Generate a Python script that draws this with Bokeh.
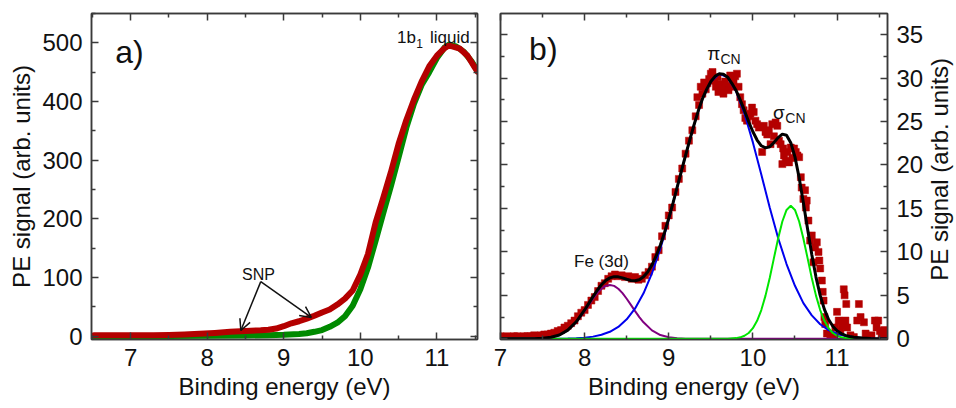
import math
from bokeh.plotting import figure
from bokeh.models import Range1d, LinearAxis, Label, Arrow, OpenHead, FixedTicker
from bokeh.layouts import row
from bokeh.embed import file_html
from bokeh.resources import INLINE

FONT = "Liberation Sans"
FRAME = "#3a3a3a"
RED = "#b40000"
DKGREEN = "#008a00"

# ---------------- panel a data ----------------
a_red_x = [6.52, 6.7, 6.9, 7.1, 7.3, 7.5, 7.7, 7.9, 8.1, 8.3, 8.5, 8.7, 8.8, 8.9, 9.0, 9.1, 9.2, 9.3,
           9.4, 9.5, 9.6, 9.7, 9.8, 9.9, 10.0, 10.1, 10.2, 10.3, 10.4, 10.5, 10.6, 10.7, 10.8, 10.9,
           11.0, 11.1, 11.15, 11.2, 11.3, 11.4, 11.5, 11.53]
a_red_y = [1.5, 1.5, 1.5, 1.5, 1.8, 2.2, 3.0, 4.0, 5.5, 7.5, 9.0, 10.0, 11.0, 13.0, 17.0, 22.0, 25.5, 30.0,
           35.0, 40.5, 45.5, 54.0, 64.0, 78.0, 105.0, 140.0, 194.0, 236.0, 280.0, 328.0, 368.0, 403.0, 434.0, 460.0,
           478.0, 491.0, 495.0, 494.0, 490.0, 478.0, 457.0, 451.0]
a_green_x = [6.52, 7.0, 7.5, 8.0, 8.5, 8.8, 9.0, 9.2, 9.3, 9.4, 9.5, 9.6, 9.7, 9.8, 9.9, 10.0, 10.1, 10.2,
             10.3, 10.4, 10.5, 10.6, 10.7, 10.8, 10.9, 11.0, 11.1, 11.16, 11.25, 11.35, 11.45, 11.53]
a_green_y = [0.5, 0.5, 0.5, 0.8, 1.2, 1.8, 2.3, 3.8, 5.0, 7.5, 10.5, 16.0, 23.0, 34.0, 52.0, 80.0, 117.0, 163.0,
             210.0, 256.0, 305.0, 355.0, 396.0, 428.0, 450.0, 474.0, 492.0, 497.0, 494.0, 485.0, 469.0, 452.0]
a_xticks = [7, 8, 9, 10, 11]
a_xminor = [6.5, 7.5, 8.5, 9.5, 10.5, 11.5]
a_yticks = [0, 100, 200, 300, 400, 500]
a_yminor = [50, 150, 250, 350, 450, 550]
snp_arrow_start = (8.70, 93.0)
snp_arrow_ends = [(8.44, 9.7), (9.36, 32.0)]

# ---------------- panel b data ----------------
b_pts_x = [7.00, 7.04, 7.08, 7.12, 7.16, 7.20, 7.24, 7.28, 7.32, 7.36, 7.40, 7.44, 7.48, 7.52, 7.56, 7.60,
           7.64, 7.68, 7.72, 7.76, 7.80, 7.84, 7.88, 7.92, 7.96, 8.00, 8.04, 8.08, 8.12, 8.16, 8.20, 8.24,
           8.28, 8.32, 8.36, 8.40, 8.44, 8.48, 8.52, 8.56, 8.60, 8.64, 8.68, 8.72, 8.76, 8.80, 8.84, 8.88,
           8.92, 8.96, 9.00, 9.04, 9.08, 9.12, 9.16, 9.20, 9.24, 9.28, 9.32, 9.34, 9.36, 9.38, 9.40, 9.42,
           9.44, 9.46, 9.48, 9.50, 9.52, 9.54, 9.56, 9.58, 9.59, 9.61, 9.63, 9.65, 9.67, 9.69, 9.71, 9.73,
           9.75, 9.77, 9.79, 9.81, 9.83, 9.85, 9.87, 9.89, 9.91, 9.93, 9.95, 9.97, 9.99, 10.01, 10.03, 10.05,
           10.07, 10.09, 10.11, 10.13, 10.15, 10.17, 10.19, 10.21, 10.23, 10.25, 10.27, 10.29, 10.31, 10.33,
           10.35, 10.36, 10.37, 10.39, 10.41, 10.43, 10.45, 10.47, 10.49, 10.51, 10.53, 10.55, 10.57, 10.58,
           10.60, 10.62, 10.63, 10.64, 10.66, 10.68, 10.70, 10.72, 10.74, 10.76, 10.78, 10.79, 10.80, 10.82,
           10.83, 10.84, 10.85, 10.86, 10.88, 10.92, 10.96, 10.98, 11.00, 11.02, 11.04, 11.06, 11.08, 11.09,
           11.10, 11.11, 11.12, 11.16, 11.20, 11.24, 11.26, 11.28, 11.32, 11.34, 11.38, 11.41, 11.45, 11.47,
           11.49, 11.51, 11.53, 11.56, 11.58]
b_pts_y = [0.3, 0.2, 0.3, 0.2, 0.3, 0.3, 0.2, 0.3, 0.3, 0.3, 0.4, 0.3, 0.4, 0.5, 0.5, 0.6,
           0.7, 0.9, 1.0, 1.3, 1.5, 1.8, 2.1, 2.6, 3.0, 3.3, 3.9, 4.4, 4.8, 5.5, 6.1, 6.4,
           6.9, 7.2, 7.4, 7.2, 7.3, 7.1, 7.2, 6.9, 7.1, 6.8, 6.9, 7.3, 7.7, 8.3, 9.4, 10.2,
           11.8, 13.0, 14.2, 15.1, 16.9, 18.4, 19.6, 21.3, 22.8, 24.0, 25.6, 27.8, 26.9, 29.0, 28.2, 29.5,
           28.7, 29.4, 29.9, 30.5, 30.7, 29.7, 29.0, 30.1, 28.4, 29.3, 28.8, 28.2, 29.6, 29.1, 28.6, 30.3,
           29.0, 29.7, 30.2, 30.5, 29.0, 27.8, 27.0, 26.3, 25.4, 25.1, 25.6, 25.9, 26.6, 26.1, 25.1, 24.7,
           24.3, 24.4, 21.5, 24.5, 23.8, 23.5, 24.0, 22.4, 24.7, 23.3, 24.9, 24.5, 22.8, 22.4,
           20.1, 21.9, 21.1, 20.5, 21.5, 20.3, 22.0, 20.8, 21.9, 21.5, 21.1, 20.9, 18.6, 17.4,
           16.1, 17.1, 15.1, 15.9, 13.6, 11.3, 11.9, 8.8, 10.5, 11.1, 10.0, 9.0, 8.1, 6.7,
           5.4, 4.4, 2.5, 1.7, 0.6, 0.4, 0.4, 1.3, 3.1, 2.1, 0.8, 1.5, 5.7, 5.0,
           2.1, 4.0, 1.3, 0.4, 0.2, 2.1, 4.0, 2.5, 1.9, 0.6, 0.2, 0.4, 2.1, 1.3,
           2.1, 0.9, 0.4, 1.0, 0.3]

b_fit_x = [7.0, 7.1, 7.2, 7.3, 7.4, 7.5, 7.6, 7.7, 7.8, 7.9,
           8.0, 8.05, 8.1, 8.15, 8.2, 8.25, 8.3, 8.35, 8.4, 8.45, 8.5, 8.55, 8.6, 8.65, 8.7, 8.75,
           8.8, 8.85, 8.9, 8.95, 9.0, 9.05, 9.1, 9.15, 9.2, 9.25, 9.3, 9.35, 9.4, 9.45, 9.5, 9.55,
           9.6, 9.65, 9.7, 9.75, 9.8, 9.85, 9.9, 9.95, 10.0, 10.05, 10.1, 10.15, 10.2, 10.25, 10.3,
           10.35, 10.4, 10.45, 10.5, 10.55, 10.6, 10.65, 10.7, 10.75, 10.8, 10.85, 10.9, 10.95, 11.0,
           11.05, 11.1, 11.15, 11.2, 11.3, 11.4, 11.5, 11.6]
b_fit_y = [0.0, 0.0, 0.0, 0.0, 0.02, 0.06, 0.18, 0.44, 1.0, 1.96,
           3.32, 4.08, 4.86, 5.59, 6.22, 6.70, 7.01, 7.15, 7.13, 7.01, 6.85, 6.71, 6.68, 6.80, 7.13, 7.69,
           8.49, 9.53, 10.79, 12.24, 13.87, 15.6, 17.46, 19.28, 21.12, 22.9, 24.6, 26.2, 27.6, 28.7, 29.6, 30.2,
           30.5, 30.44, 30.1, 29.4, 28.58, 27.47, 26.25, 24.97, 23.82, 22.87, 22.21, 21.97, 22.1, 22.58, 23.15,
           23.55, 23.43, 22.57, 20.93, 18.53, 15.65, 12.63, 9.7, 7.1, 4.99, 3.38, 2.22, 1.44, 0.93,
           0.61, 0.40, 0.26, 0.17, 0.085, 0.04, 0.02, 0.01]

b_pi_x = [7.0, 7.1, 7.2, 7.3, 7.4, 7.5, 7.6, 7.7, 7.8, 7.9, 8.0, 8.1, 8.2, 8.3, 8.4, 8.5, 8.6, 8.7,
          8.8, 8.9, 9.0, 9.1, 9.2, 9.3, 9.4, 9.5, 9.6, 9.7, 9.8, 9.9, 10.0, 10.1, 10.2, 10.3, 10.4,
          10.5, 10.6, 10.7, 10.8, 10.9, 11.0, 11.1, 11.2, 11.3, 11.4, 11.5, 11.6]
b_pi_y = [0.0, 0.0, 0.0, 0.0, 0.0, 0.0, 0.01, 0.01, 0.03, 0.06, 0.13, 0.25, 0.46, 0.81, 1.37, 2.24, 3.49, 5.23,
          7.52, 10.36, 13.7, 17.4, 21.1, 24.6, 27.6, 29.6, 30.5, 30.1, 28.5, 25.9, 22.6, 18.9, 15.1, 11.6, 8.6,
          6.1, 4.1, 2.7, 1.68, 1.0, 0.58, 0.32, 0.17, 0.085, 0.04, 0.02, 0.01]

b_sigma_x = [7.0, 9.6, 9.7, 9.8, 9.85, 9.9, 9.95, 10.0, 10.05, 10.1, 10.15, 10.2, 10.25, 10.3, 10.35, 10.4,
             10.45, 10.5, 10.55, 10.6, 10.65, 10.7, 10.75, 10.8, 10.85, 10.9, 10.95, 11.0, 11.05, 11.1, 11.2]
b_sigma_y = [0.0, 0.0, 0.01, 0.08, 0.17, 0.35, 0.67, 1.22, 2.07, 3.31, 4.97, 7.0, 9.28, 11.55, 13.5, 14.83,
             15.3, 14.83, 13.5, 11.55, 9.28, 7.0, 4.97, 3.31, 2.07, 1.22, 0.67, 0.35, 0.17, 0.08, 0.01]

b_fe_x = [7.0, 7.4, 7.5, 7.6, 7.7, 7.8, 7.9, 8.0, 8.05, 8.1, 8.15, 8.2, 8.25, 8.3, 8.35, 8.4, 8.45,
          8.5, 8.55, 8.6, 8.65, 8.7, 8.8, 8.9, 9.0, 9.1, 9.2, 9.4, 11.6]
b_fe_y = [0.0, 0.02, 0.06, 0.17, 0.43, 0.97, 1.90, 3.19, 3.90, 4.61, 5.25, 5.76, 6.09, 6.20, 6.09, 5.76, 5.25,
          4.61, 3.90, 3.19, 2.50, 1.90, 0.97, 0.43, 0.17, 0.06, 0.02, 0.0, 0.0]

b_xticks = [7, 8, 9, 10, 11]
b_xminor = [7.5, 8.5, 9.5, 10.5, 11.5]
b_yticks = [0, 5, 10, 15, 20, 25, 30, 35]
b_yminor = [2.5, 7.5, 12.5, 17.5, 22.5, 27.5, 32.5]


def style_axis(ax, major, minor, labels):
    ax.ticker = FixedTicker(ticks=major, minor_ticks=minor)
    ax.major_tick_in = 7
    ax.major_tick_out = 0
    ax.minor_tick_in = 4
    ax.minor_tick_out = 0
    ax.axis_line_color = FRAME
    ax.axis_line_width = 1.5
    ax.major_tick_line_color = FRAME
    ax.major_tick_line_width = 1.5
    ax.minor_tick_line_color = FRAME
    ax.minor_tick_line_width = 1.5
    if labels:
        ax.major_label_text_font = FONT
        ax.major_label_text_font_size = "24px"
        ax.major_label_text_color = "#111111"
        ax.major_label_standoff = 9
        ax.axis_label_text_font = FONT
        ax.axis_label_text_font_size = "24px"
        ax.axis_label_text_font_style = "normal"
        ax.axis_label_text_color = "#111111"
        ax.axis_label_standoff = 4
    else:
        ax.major_label_text_color = None
        ax.major_label_text_font_size = "0px"
        ax.major_label_standoff = 0


def make_fig(width, xr, yr, ml, mr):
    p = figure(width=width, height=408, x_range=Range1d(*xr), y_range=Range1d(*yr),
               output_backend="svg", toolbar_location=None,
               min_border_left=ml, min_border_right=mr, min_border_top=13, min_border_bottom=69)
    p.xgrid.visible = False
    p.ygrid.visible = False
    p.outline_line_color = FRAME
    p.outline_line_width = 1.5
    p.background_fill_color = "white"
    p.border_fill_color = "white"
    return p


def label(p, x, y, text, size, align="left", angle=0.0):
    p.add_layout(Label(x=x, y=y, text=text, text_font=FONT, text_font_size=size, angle=angle,
                       text_color="#111111", text_align=align, text_baseline="alphabetic"))


# ---------------- panel a ----------------
p1 = make_fig(482, (6.49, 11.53), (-5.6, 550), 91, 5)
style_axis(p1.xaxis[0], a_xticks, a_xminor, True)
style_axis(p1.yaxis[0], a_yticks, a_yminor, True)
p1.xaxis[0].axis_label = "Binding energy (eV)"
p1.yaxis[0].axis_label = "PE signal (arb. units)"
top1 = LinearAxis()
style_axis(top1, a_xticks, a_xminor, False)
p1.add_layout(top1, "above")
right1 = LinearAxis()
style_axis(right1, a_yticks, a_yminor, False)
p1.add_layout(right1, "right")

p1.line(a_green_x, a_green_y, line_color=DKGREEN, line_width=6, line_join="round", line_cap="round")
p1.line(a_red_x, a_red_y, line_color=RED, line_width=6, line_join="round", line_cap="round")

for (xe, ye) in snp_arrow_ends:
    p1.add_layout(Arrow(end=OpenHead(size=11, line_width=1.5, line_color="#111111"),
                        x_start=snp_arrow_start[0], y_start=snp_arrow_start[1], x_end=xe, y_end=ye,
                        line_width=1.5, line_color="#111111"))
label(p1, 8.67, 106, "SNP", "16px", "center")
label(p1, 6.80, 484, "a)", "32px")
label(p1, 10.48, 509, "1b", "17px")
label(p1, 10.73, 499, "1", "12px")
label(p1, 10.91, 509, "liquid", "17px")

# ---------------- panel b ----------------
p2 = make_fig(444, (7.0, 11.6), (-0.08, 37.43), 18, 39)
style_axis(p2.xaxis[0], b_xticks, b_xminor, True)
style_axis(p2.yaxis[0], b_yticks, b_yminor, False)
p2.xaxis[0].axis_label = "Binding energy (eV)"
top2 = LinearAxis()
style_axis(top2, b_xticks, b_xminor, False)
p2.add_layout(top2, "above")
right2 = LinearAxis()
style_axis(right2, b_yticks, b_yminor, True)
p2.add_layout(right2, "right")

p2.scatter(b_pts_x, b_pts_y, marker="square", size=7, fill_color=RED, line_color=RED, line_width=0.5)
p2.line(b_fe_x, b_fe_y, line_color="#800080", line_width=2)
p2.line(b_pi_x, b_pi_y, line_color="#0000ee", line_width=2)
p2.line(b_sigma_x, b_sigma_y, line_color="#00e600", line_width=2)
p2.line(b_fit_x, b_fit_y, line_color="black", line_width=3)

label(p2, 7.34, 33.4, "b)", "32px")
label(p2, 8.2, 8.93, "Fe (3d)", "17px", "center")
label(p2, 9.457, 32.8, "π", "19px")
label(p2, 9.615, 32.2, "CN", "14px")
label(p2, 10.24, 26.08, "σ", "19px")
label(p2, 10.386, 25.43, "CN", "14px")

# ---------------- right-hand axis title of panel b (reads bottom to top) ----------------
p3 = figure(width=30, height=408, x_range=Range1d(0, 30), y_range=Range1d(0, 408),
            output_backend="svg", toolbar_location=None, x_axis_type=None, y_axis_type=None,
            min_border_left=0, min_border_right=0, min_border_top=0, min_border_bottom=0)
p3.xgrid.visible = False
p3.ygrid.visible = False
p3.outline_line_color = None
p3.background_fill_color = "white"
p3.border_fill_color = "white"
label(p3, 13, 213, "PE signal (arb. units)", "24px", "center", math.pi / 2)

layout = row(p1, p2, p3)
open("out.html", "w").write(file_html(layout, INLINE))
